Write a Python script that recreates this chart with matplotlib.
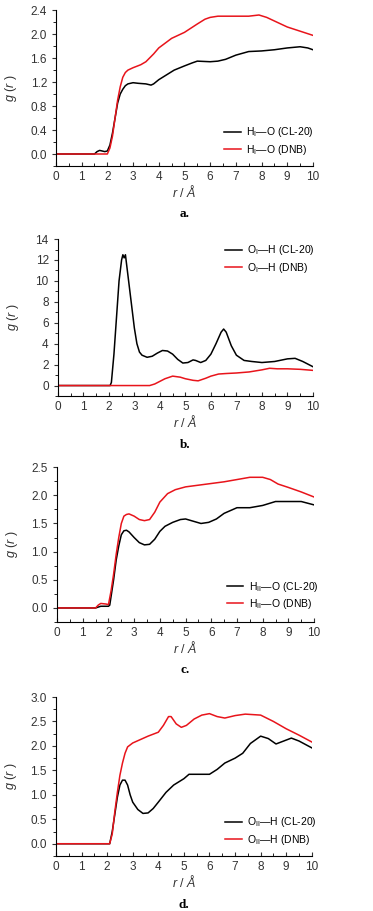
import matplotlib
matplotlib.use('agg')
from matplotlib import pyplot as plt
from matplotlib.ticker import MultipleLocator

plt.rcParams['font.family'] = 'Liberation Sans'
plt.rcParams['mathtext.fontset'] = 'custom'
plt.rcParams['mathtext.rm'] = 'Liberation Sans'
plt.rcParams['mathtext.it'] = 'Liberation Sans:italic'

# panel a: H_I - O
a_r_cl20 = [0, 1.5, 1.6, 1.7, 1.8, 1.9, 2.0, 2.1, 2.2, 2.3, 2.4, 2.5, 2.6, 2.7, 2.8, 3.0, 3.2, 3.5, 3.7,
            3.8, 4.0, 4.3, 4.6, 5.0, 5.3, 5.5, 6.0, 6.3, 6.6, 7.0, 7.5, 8.0, 8.5, 9.0, 9.5, 9.8, 10]
a_g_cl20 = [0, 0, 0.04, 0.06, 0.05, 0.04, 0.05, 0.15, 0.35, 0.6, 0.85, 1.0, 1.08, 1.14, 1.17, 1.19, 1.18, 1.17, 1.15,
            1.17, 1.24, 1.32, 1.40, 1.47, 1.52, 1.55, 1.54, 1.55, 1.58, 1.65, 1.71, 1.72, 1.74, 1.77, 1.79, 1.77, 1.74]
a_r_dnb = [0, 2.0, 2.1, 2.2, 2.3, 2.4, 2.5, 2.6, 2.7, 2.8, 3.0, 3.3, 3.5, 3.8, 4.0, 4.5, 5.0, 5.5, 5.8,
           6.0, 6.3, 7.0, 7.5, 7.9, 8.2, 8.5, 9.0, 9.5, 10]
a_g_dnb = [0, 0, 0.1, 0.3, 0.6, 0.9, 1.12, 1.28, 1.36, 1.40, 1.44, 1.49, 1.54, 1.67, 1.77, 1.93, 2.03, 2.17, 2.25,
           2.28, 2.30, 2.30, 2.30, 2.32, 2.28, 2.22, 2.12, 2.05, 1.98]

# panel b: O_I - H
b_r_cl20 = [0, 2.05, 2.1, 2.2, 2.3, 2.4, 2.5, 2.55, 2.6, 2.65, 2.7, 2.8, 2.9, 3.0, 3.1, 3.2, 3.3, 3.5, 3.7,
            3.9, 4.1, 4.3, 4.5, 4.7, 4.9, 5.1, 5.3, 5.4, 5.6, 5.8, 6.0, 6.2, 6.4, 6.5, 6.6, 6.8, 7.0, 7.3,
            7.6, 8.0, 8.5, 9.0, 9.3, 9.6, 10]
b_g_cl20 = [0, 0, 0.3, 3.0, 6.5, 10.0, 12.0, 12.5, 12.2, 12.5, 11.5, 9.5, 7.5, 5.5, 4.0, 3.2, 2.9, 2.7, 2.8,
            3.1, 3.35, 3.3, 3.0, 2.5, 2.15, 2.2, 2.45, 2.4, 2.2, 2.4, 3.0, 4.0, 5.1, 5.4, 5.1, 3.8, 2.9, 2.4,
            2.3, 2.2, 2.3, 2.55, 2.6, 2.3, 1.8]
b_r_dnb = [0, 3.6, 3.8, 4.0, 4.2, 4.5, 4.8, 5.0, 5.3, 5.5, 5.8, 6.0, 6.3, 6.6, 7.0, 7.5, 8.0, 8.3, 8.6,
           9.0, 9.5, 10]
b_g_dnb = [0, 0, 0.15, 0.4, 0.65, 0.9, 0.8, 0.65, 0.5, 0.45, 0.7, 0.9, 1.1, 1.15, 1.2, 1.3, 1.5, 1.65, 1.6,
           1.6, 1.55, 1.45]

# panel c: H_II - O
c_r_cl20 = [0, 1.5, 1.7, 2.0, 2.05, 2.1, 2.2, 2.3, 2.4, 2.5, 2.6, 2.7, 2.8, 3.0, 3.2, 3.4, 3.6, 3.8, 4.0,
            4.2, 4.5, 4.8, 5.0, 5.3, 5.6, 5.9, 6.2, 6.5, 7.0, 7.5, 8.0, 8.5, 9.0, 9.5, 10]
c_g_cl20 = [0, 0, 0.03, 0.03, 0.05, 0.2, 0.5, 0.85, 1.1, 1.3, 1.37, 1.38, 1.35, 1.25, 1.16, 1.12, 1.13, 1.22, 1.36,
            1.45, 1.52, 1.57, 1.58, 1.54, 1.50, 1.52, 1.58, 1.68, 1.78, 1.78, 1.82, 1.89, 1.89, 1.89, 1.83]
c_r_dnb = [0, 1.5, 1.6, 1.7, 1.9, 2.0, 2.1, 2.2, 2.3, 2.4, 2.5, 2.6, 2.7, 2.8, 3.0, 3.2, 3.4, 3.6, 3.8,
           4.0, 4.3, 4.6, 5.0, 5.5, 6.0, 6.5, 7.0, 7.5, 8.0, 8.3, 8.6, 9.0, 9.5, 10]
c_g_dnb = [0, 0, 0.05, 0.08, 0.07, 0.06, 0.3, 0.6, 0.95, 1.25, 1.5, 1.63, 1.66, 1.67, 1.63, 1.57, 1.55, 1.57, 1.70,
           1.88, 2.03, 2.10, 2.15, 2.18, 2.21, 2.24, 2.28, 2.32, 2.32, 2.28, 2.20, 2.14, 2.06, 1.97]

# panel d: O_II - H
d_r_cl20 = [0, 2.1, 2.2, 2.3, 2.4, 2.5, 2.6, 2.7, 2.8, 2.9, 3.0, 3.2, 3.4, 3.6, 3.8, 4.0, 4.3, 4.6, 5.0,
            5.2, 5.5, 6.0, 6.3, 6.6, 7.0, 7.3, 7.6, 8.0, 8.3, 8.6, 8.9, 9.2, 9.5, 10]
d_g_cl20 = [0, 0, 0.25, 0.6, 0.95, 1.2, 1.3, 1.3, 1.2, 1.0, 0.85, 0.7, 0.62, 0.63, 0.72, 0.85, 1.05, 1.2, 1.33,
            1.42, 1.42, 1.42, 1.52, 1.65, 1.75, 1.85, 2.05, 2.2, 2.15, 2.04, 2.1, 2.16, 2.1, 1.96]
d_r_dnb = [0, 2.1, 2.2, 2.3, 2.4, 2.5, 2.6, 2.7, 2.8, 3.0, 3.3, 3.6, 4.0, 4.2, 4.4, 4.5, 4.7, 4.9, 5.1,
           5.4, 5.7, 6.0, 6.3, 6.6, 7.0, 7.4, 8.0, 8.5, 9.0, 9.5, 10]
d_g_dnb = [0, 0, 0.2, 0.65, 1.05, 1.4, 1.65, 1.85, 1.98, 2.06, 2.13, 2.20, 2.28, 2.42, 2.60, 2.60, 2.45, 2.38, 2.42,
           2.55, 2.63, 2.66, 2.60, 2.57, 2.62, 2.65, 2.63, 2.5, 2.35, 2.22, 2.08]

panels = [
    dict(rect=[0.150, 0.8178, 0.689, 0.171], ylim=(-0.2, 2.4), major=0.4, minor=0.2, fmt='%.1f',
         data=(a_r_cl20, a_g_cl20, a_r_dnb, a_g_dnb), sub='I', pair='H{}—O',
         leg=(0.635, 0.16), tag='a.'),
    dict(rect=[0.155, 0.5653, 0.684, 0.1723], ylim=(-1, 14), major=2, minor=1, fmt='%d',
         data=(b_r_cl20, b_g_cl20, b_r_dnb, b_g_dnb), sub='I', pair='O{}—H',
         leg=(0.635, 0.873), tag='b.'),
    dict(rect=[0.153, 0.3172, 0.689, 0.170], ylim=(-0.25, 2.5), major=0.5, minor=0.25, fmt='%.1f',
         data=(c_r_cl20, c_g_cl20, c_r_dnb, c_g_dnb), sub='II', pair='H{}—O',
         leg=(0.64, 0.174), tag='c.'),
    dict(rect=[0.150, 0.0604, 0.686, 0.1745], ylim=(-0.25, 3.0), major=0.5, minor=0.25, fmt='%.1f',
         data=(d_r_cl20, d_g_cl20, d_r_dnb, d_g_dnb), sub='II', pair='O{}—H',
         leg=(0.64, 0.157), tag='d.'),
]

fig = plt.figure(figsize=(3.73, 9.11), dpi=100)

for p in panels:
    ax = fig.add_axes(p['rect'])
    r1, g1, r2, g2 = p['data']
    s = r'$_\mathrm{' + p['sub'] + '}$'
    ax.plot(r1, g1, color='black', lw=1.1, label=p['pair'].format(s) + ' (CL-20)')
    ax.plot(r2, g2, color='#e8141b', lw=1.1, label=p['pair'].format(s) + ' (DNB)')
    ax.set_xlim(0, 10)
    ax.set_ylim(*p['ylim'])
    ax.spines['top'].set_visible(False)
    ax.spines['right'].set_visible(False)
    ax.xaxis.set_major_locator(MultipleLocator(1))
    ax.xaxis.set_minor_locator(MultipleLocator(0.5))
    ax.yaxis.set_major_locator(MultipleLocator(p['major']))
    ax.yaxis.set_minor_locator(MultipleLocator(p['minor']))
    ax.yaxis.set_major_formatter(matplotlib.ticker.FormatStrFormatter(p['fmt']))
    ax.tick_params(axis='x', direction='in', length=3, labelsize=8.5, colors='#333333')
    ax.tick_params(axis='x', which='minor', direction='in', length=2)
    ax.tick_params(axis='y', direction='out', length=3, labelsize=8.5, colors='#333333')
    ax.tick_params(axis='y', which='minor', direction='out', length=2)
    ax.set_xlabel(r'$r\ /\ \AA$', fontsize=9, labelpad=1, color='#333333')
    ax.set_ylabel(r'$g\ (r\ )$', fontsize=9, color='#333333')
    ax.yaxis.set_label_coords(-0.145, 0.5)
    ax.legend(loc='center left', bbox_to_anchor=p['leg'], frameon=False, fontsize=7.5,
              handlelength=1.6, handletextpad=0.5, labelspacing=0.3, borderpad=0)
    ax.text(0.5, -0.31, p['tag'], transform=ax.transAxes, ha='center', va='center',
            fontsize=9.5, fontweight='bold', family='Liberation Serif')

fig.savefig('out.png', dpi=100)
